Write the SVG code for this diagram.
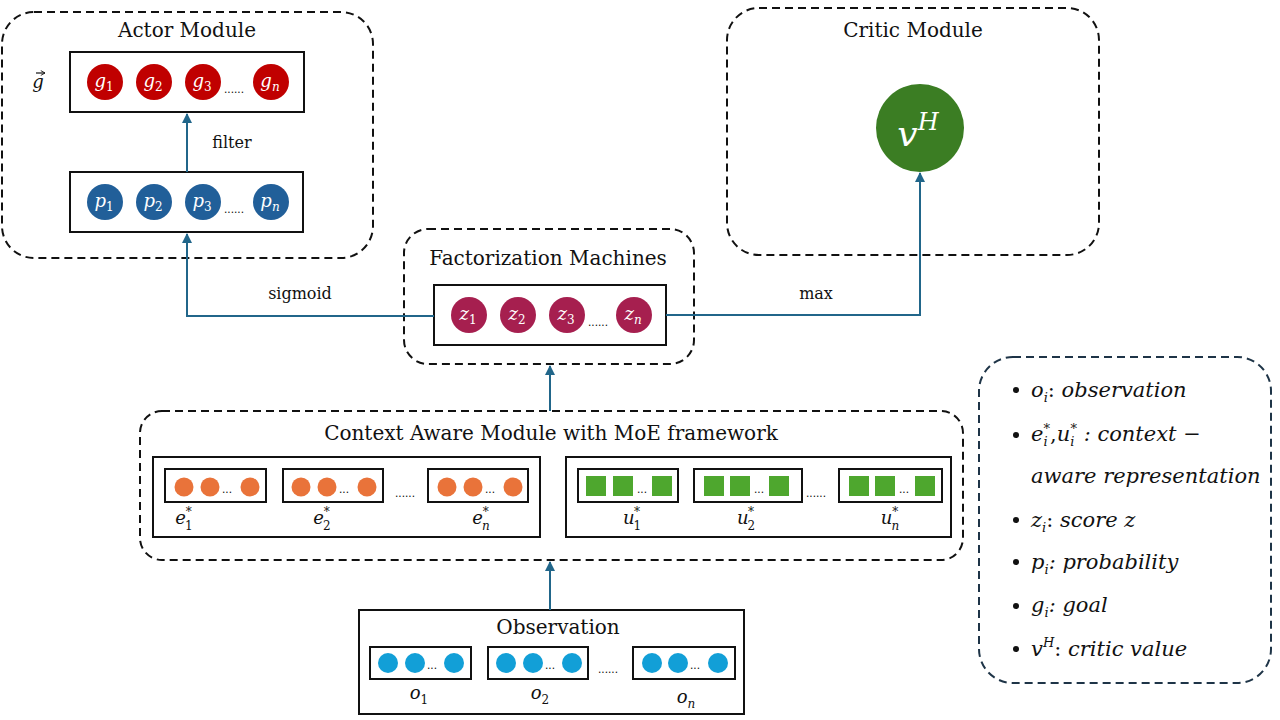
<svg xmlns="http://www.w3.org/2000/svg" width="1280" height="720" viewBox="0 0 1280 720">
<style>
.dash{fill:none;stroke:#111;stroke-width:2;stroke-dasharray:8,5}
.solid{fill:#fff;stroke:#111;stroke-width:2}
.sub{fill:none;stroke:#111;stroke-width:2}
.title{font-family:"DejaVu Serif","Liberation Serif",serif;font-size:20px;fill:#111;text-anchor:middle}
.lbl{font-family:"DejaVu Serif","Liberation Serif",serif;font-size:16px;fill:#111;text-anchor:middle}
.m{font-family:"DejaVu Serif","Liberation Serif",serif;font-style:italic;font-size:18px;fill:#fff;text-anchor:middle}
.mb{font-family:"DejaVu Serif","Liberation Serif",serif;font-style:italic;font-size:18px;fill:#111;text-anchor:middle}
.leg{font-family:"DejaVu Serif","Liberation Serif",serif;font-style:italic;font-size:21px;fill:#111}
.dots{font-family:"Liberation Sans",sans-serif;font-size:12px;fill:#111;text-anchor:middle}
.conn{fill:none;stroke:#21668A;stroke-width:2}
.g{fill:#C00000}.p{fill:#215F99}.z{fill:#A61F4F}.e{fill:#E9733A}.u{fill:#4EA72E}.o{fill:#129FD7}
</style>
<defs>
<marker id="arr" viewBox="0 0 10 10" refX="9" refY="5" markerWidth="5" markerHeight="5" orient="auto">
<path d="M0,0 L10,5 L0,10 z" fill="#21668A"/>
</marker>
<marker id="vec" viewBox="0 0 10 10" refX="9" refY="5" markerWidth="6" markerHeight="6" orient="auto" markerUnits="userSpaceOnUse">
<path d="M2,1 L9,5 L2,9" fill="none" stroke="#111" stroke-width="1.5"/>
</marker>
</defs>

<g id="actor-module">
<rect class="dash" x="2" y="12" width="371" height="246" rx="32"/>
<text class="title" x="187" y="37">Actor Module</text>
<text class="mb" x="38" y="88">g</text>
<path d="M36,73 H45" fill="none" stroke="#111" stroke-width="1.2" marker-end="url(#vec)"/>
<rect class="solid" x="70" y="52" width="234" height="60"/>
<circle class="g" cx="105" cy="82" r="18"/><text class="m" x="104" y="87">g<tspan font-size="12" font-style="normal" dy="4">1</tspan></text>
<circle class="g" cx="154" cy="82" r="18"/><text class="m" x="153" y="87">g<tspan font-size="12" font-style="normal" dy="4">2</tspan></text>
<circle class="g" cx="203" cy="82" r="18"/><text class="m" x="202" y="87">g<tspan font-size="12" font-style="normal" dy="4">3</tspan></text>
<text class="dots" x="234" y="93">......</text>
<circle class="g" cx="271" cy="82" r="18"/><text class="m" x="270" y="87">g<tspan font-size="12" dy="4">n</tspan></text>
<text class="lbl" x="232" y="148">filter</text>
<rect class="solid" x="70" y="172" width="233" height="60"/>
<circle class="p" cx="105" cy="202" r="18"/><text class="m" x="104" y="207">p<tspan font-size="12" font-style="normal" dy="4">1</tspan></text>
<circle class="p" cx="154" cy="202" r="18"/><text class="m" x="153" y="207">p<tspan font-size="12" font-style="normal" dy="4">2</tspan></text>
<circle class="p" cx="203" cy="202" r="18"/><text class="m" x="202" y="207">p<tspan font-size="12" font-style="normal" dy="4">3</tspan></text>
<text class="dots" x="234" y="213">......</text>
<circle class="p" cx="271" cy="202" r="18"/><text class="m" x="270" y="207">p<tspan font-size="12" dy="4">n</tspan></text>
</g>

<g id="critic-module">
<rect class="dash" x="727" y="8" width="372" height="247" rx="32"/>
<text class="title" x="913" y="37">Critic Module</text>
<circle fill="#3B7D23" cx="920" cy="128" r="44"/>
<text class="m" x="918" y="146" style="font-size:36px">v<tspan style="font-size:24px" dy="-16">H</tspan></text>
</g>

<g id="fm-module">
<rect class="dash" x="404" y="229" width="290" height="135" rx="24"/>
<text class="title" x="548" y="265">Factorization Machines</text>
<rect class="solid" x="434" y="285" width="232" height="60"/>
<circle class="z" cx="469" cy="315" r="18"/><text class="m" x="468" y="320">z<tspan font-size="12" font-style="normal" dy="4">1</tspan></text>
<circle class="z" cx="518" cy="315" r="18"/><text class="m" x="517" y="320">z<tspan font-size="12" font-style="normal" dy="4">2</tspan></text>
<circle class="z" cx="567" cy="315" r="18"/><text class="m" x="566" y="320">z<tspan font-size="12" font-style="normal" dy="4">3</tspan></text>
<text class="dots" x="598" y="326">......</text>
<circle class="z" cx="634" cy="315" r="18"/><text class="m" x="633" y="320">z<tspan font-size="12" dy="4">n</tspan></text>
</g>

<g id="context-module">
<rect class="dash" x="140" y="411" width="823" height="149" rx="22"/>
<text class="title" x="551" y="440">Context Aware Module with MoE framework</text>
<rect class="solid" x="153" y="457" width="387" height="80"/>
<rect class="sub" x="165" y="469" width="101" height="33"/>
<circle class="e" cx="184" cy="487" r="9.5"/><circle class="e" cx="210" cy="487" r="9.5"/><text class="dots" x="227" y="493">...</text><circle class="e" cx="250" cy="487" r="9.5"/>
<rect class="sub" x="283" y="469" width="100" height="33"/>
<circle class="e" cx="301" cy="487" r="9.5"/><circle class="e" cx="327" cy="487" r="9.5"/><text class="dots" x="344" y="493">...</text><circle class="e" cx="367" cy="487" r="9.5"/>
<text class="dots" x="405" y="497">......</text>
<rect class="sub" x="428" y="469" width="100" height="33"/>
<circle class="e" cx="447" cy="487" r="9.5"/><circle class="e" cx="473" cy="487" r="9.5"/><text class="dots" x="490" y="493">...</text><circle class="e" cx="513" cy="487" r="9.5"/>
<text class="mb" x="184" y="524">e<tspan font-size="12" font-style="normal" dx="-1" dy="6">1</tspan><tspan font-size="12" font-style="normal" dx="-7" dy="-14">*</tspan></text>
<text class="mb" x="322" y="524">e<tspan font-size="12" font-style="normal" dx="-1" dy="6">2</tspan><tspan font-size="12" font-style="normal" dx="-7" dy="-14">*</tspan></text>
<text class="mb" x="481" y="524">e<tspan font-size="12" dx="-1" dy="6">n</tspan><tspan font-size="12" font-style="normal" dx="-7" dy="-14">*</tspan></text>
<rect class="solid" x="566" y="457" width="385" height="80"/>
<rect class="sub" x="578" y="469" width="100" height="33"/>
<rect class="u" x="586" y="476" width="20" height="20"/><rect class="u" x="613" y="476" width="20" height="20"/><text class="dots" x="642" y="493">...</text><rect class="u" x="652" y="476" width="20" height="20"/>
<rect class="sub" x="694" y="469" width="108" height="33"/>
<rect class="u" x="704" y="476" width="20" height="20"/><rect class="u" x="730" y="476" width="20" height="20"/><text class="dots" x="759" y="493">...</text><rect class="u" x="769" y="476" width="20" height="20"/>
<text class="dots" x="816" y="497">......</text>
<rect class="sub" x="839" y="469" width="103" height="33"/>
<rect class="u" x="849" y="476" width="20" height="20"/><rect class="u" x="875" y="476" width="20" height="20"/><text class="dots" x="904" y="493">...</text><rect class="u" x="915" y="476" width="20" height="20"/>
<text class="mb" x="632" y="524">u<tspan font-size="12" font-style="normal" dx="-1" dy="6">1</tspan><tspan font-size="12" font-style="normal" dx="-7" dy="-14">*</tspan></text>
<text class="mb" x="746" y="524">u<tspan font-size="12" font-style="normal" dx="-1" dy="6">2</tspan><tspan font-size="12" font-style="normal" dx="-7" dy="-14">*</tspan></text>
<text class="mb" x="890" y="524">u<tspan font-size="12" dx="-1" dy="6">n</tspan><tspan font-size="12" font-style="normal" dx="-7" dy="-14">*</tspan></text>
</g>

<g id="observation">
<rect class="solid" x="359" y="610" width="385" height="104"/>
<text class="title" x="558" y="634">Observation</text>
<rect class="sub" x="370" y="647" width="101" height="32"/>
<circle class="o" cx="388" cy="663" r="10"/><circle class="o" cx="415" cy="663" r="10"/><text class="dots" x="432" y="669">...</text><circle class="o" cx="454" cy="663" r="10"/>
<rect class="sub" x="488" y="647" width="100" height="32"/>
<circle class="o" cx="506" cy="663" r="10"/><circle class="o" cx="533" cy="663" r="10"/><text class="dots" x="550" y="669">...</text><circle class="o" cx="572" cy="663" r="10"/>
<text class="dots" x="608" y="673">......</text>
<rect class="sub" x="633" y="647" width="102" height="32"/>
<circle class="o" cx="652" cy="663" r="10"/><circle class="o" cx="678" cy="663" r="10"/><text class="dots" x="695" y="669">...</text><circle class="o" cx="718" cy="663" r="10"/>
<text class="mb" x="419" y="699">o<tspan font-size="12" font-style="normal" dy="5">1</tspan></text>
<text class="mb" x="540" y="699">o<tspan font-size="12" font-style="normal" dy="5">2</tspan></text>
<text class="mb" x="686" y="703">o<tspan font-size="12" dy="5">n</tspan></text>
</g>

<g id="legend">
<rect x="979" y="357" width="292" height="326" rx="34" fill="none" stroke="#1E3447" stroke-width="2" stroke-dasharray="8,5"/>
<g class="leg">
<circle cx="1016" cy="390" r="3" fill="#111"/><text x="1031" y="397">o<tspan font-size="13" dy="5">i</tspan><tspan dy="-5" font-style="normal">: </tspan>observation</text>
<circle cx="1016" cy="435" r="3" fill="#111"/><text x="1031" y="441">e<tspan font-size="13" dy="5">i</tspan><tspan font-size="13" font-style="normal" dx="-4" dy="-13">*</tspan><tspan dy="8" font-style="normal">,</tspan>u<tspan font-size="13" dy="5">i</tspan><tspan font-size="13" font-style="normal" dx="-4" dy="-13">*</tspan><tspan dy="8"> : context −</tspan></text>
<text x="1031" y="483">aware representation</text>
<circle cx="1016" cy="520" r="3" fill="#111"/><text x="1031" y="527">z<tspan font-size="13" dy="5">i</tspan><tspan dy="-5" font-style="normal">: </tspan>score z</text>
<circle cx="1016" cy="562" r="3" fill="#111"/><text x="1031" y="569">p<tspan font-size="13" dy="5">i</tspan><tspan dy="-5">: probability</tspan></text>
<circle cx="1016" cy="606" r="3" fill="#111"/><text x="1031" y="612">g<tspan font-size="13" dy="5">i</tspan><tspan dy="-5">: goal</tspan></text>
<circle cx="1016" cy="649" r="3" fill="#111"/><text x="1031" y="656">v<tspan font-size="13" dy="-9">H</tspan><tspan dy="9" font-style="normal">: </tspan>critic value</text>
</g>
</g>

<g id="connectors">
<path class="conn" d="M187,172 V114" marker-end="url(#arr)"/>
<path class="conn" d="M434,316 H187 V234" marker-end="url(#arr)"/>
<path class="conn" d="M666,315 H920 V173" marker-end="url(#arr)"/>
<path class="conn" d="M550,411 V366" marker-end="url(#arr)"/>
<path class="conn" d="M550,610 V562" marker-end="url(#arr)"/>
<text class="lbl" x="300" y="299">sigmoid</text>
<text class="lbl" x="816" y="299">max</text>
</g>
</svg>
